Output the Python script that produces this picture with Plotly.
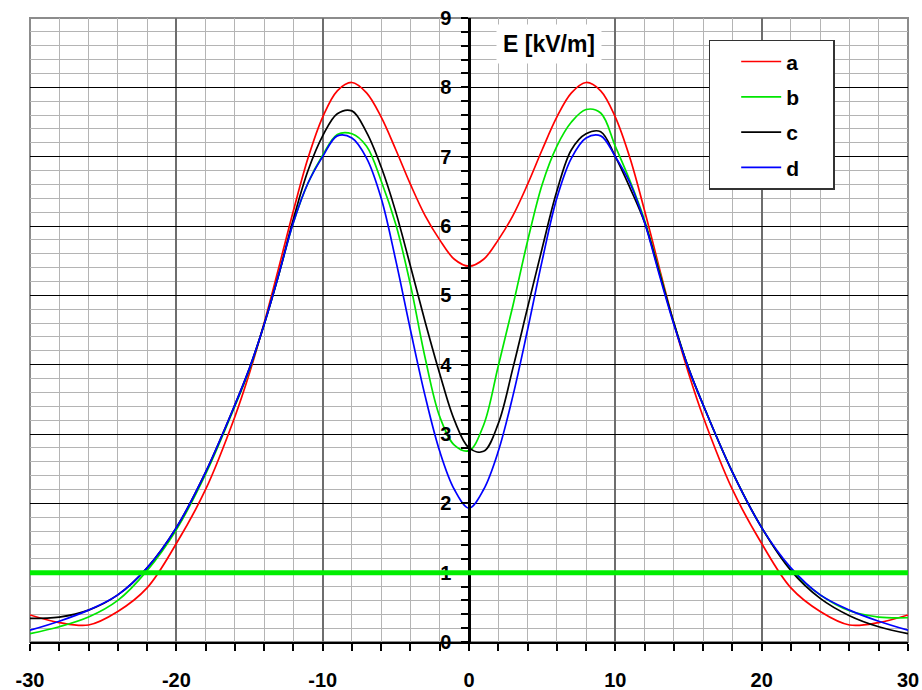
import plotly.graph_objects as go

# ---- data ----
x_m = [-30, -28, -26, -24, -22, -20, -18, -16, -15, -14, -13, -12, -11, -10, -9, -8, -7, -6, -5, -4, -3, -2, -1,
       0, 1, 2, 3, 4, 5, 6, 7, 8, 9, 10, 11, 12, 13, 14, 15, 16, 18, 20, 22, 24, 26, 28, 30]

E_a = [0.39, 0.28, 0.245, 0.44, 0.78, 1.42, 2.2, 3.25, 3.88, 4.6, 5.4, 6.22, 6.98, 7.57, 7.95, 8.07, 7.92, 7.57, 7.1, 6.6, 6.15, 5.8, 5.52,
       5.42, 5.52, 5.8, 6.15, 6.6, 7.1, 7.57, 7.92, 8.07, 7.95, 7.57, 6.98, 6.22, 5.4, 4.6, 3.88, 3.25, 2.2, 1.42, 0.78, 0.44, 0.245, 0.28, 0.39]

E_b = [0.12, 0.22, 0.36, 0.6, 1.03, 1.62, 2.42, 3.4, 3.93, 4.58, 5.3, 6.05, 6.62, 7.02, 7.32, 7.33, 7.15, 6.65, 6.02, 5.15, 4.1, 3.25, 2.84,
       2.76, 3.13, 3.98, 4.85, 5.78, 6.6, 7.15, 7.5, 7.68, 7.63, 7.15, 6.65, 6.08, 5.35, 4.6, 3.95, 3.42, 2.45, 1.65, 1.05, 0.68, 0.45, 0.36, 0.35]

E_c = [0.34, 0.36, 0.46, 0.68, 1.07, 1.65, 2.45, 3.42, 3.95, 4.58, 5.3, 6.1, 6.8, 7.3, 7.62, 7.66, 7.35, 6.85, 6.2, 5.42, 4.62, 3.87, 3.2,
       2.8, 2.75, 3.15, 3.95, 4.82, 5.68, 6.5, 7.1, 7.33, 7.36, 7.0, 6.55, 6.05, 5.33, 4.6, 3.95, 3.42, 2.45, 1.65, 1.03, 0.63, 0.38, 0.22, 0.12]

E_d = [0.17, 0.3, 0.46, 0.68, 1.07, 1.65, 2.45, 3.42, 3.95, 4.58, 5.3, 6.05, 6.62, 7.0, 7.3, 7.27, 6.98, 6.4, 5.5, 4.5, 3.55, 2.75, 2.2,
       1.93, 2.2, 2.75, 3.55, 4.5, 5.5, 6.4, 6.98, 7.27, 7.3, 7.0, 6.62, 6.05, 5.3, 4.58, 3.95, 3.42, 2.45, 1.65, 1.07, 0.68, 0.46, 0.3, 0.17]

series_names = ["a", "b", "c", "d"]
series_colors = ["#ff0000", "#00e600", "#000000", "#0000ff"]
limit_value = 1.0

x_ticks = [-30, -20, -10, 0, 10, 20, 30]
x_tick_labels = ["-30", "-20", "-10", "0", "10", "20", "30"]
y_ticks = [0, 1, 2, 3, 4, 5, 6, 7, 8, 9]

FONT = "Liberation Sans, Arial, sans-serif"
PAD = "&nbsp;" * 5

fig = go.Figure()
for name, ys, col in zip(series_names, [E_a, E_b, E_c, E_d], series_colors):
    fig.add_trace(go.Scatter(
        x=x_m, y=ys, mode="lines", name=name + PAD, legendgroup=name,
        line=dict(color=col, width=1.7, shape="spline", smoothing=1.0),
    ))

fig.add_hline(y=limit_value, line=dict(color="#00ee00", width=5))

# plot frame (grey)
fig.add_shape(type="rect", xref="paper", yref="paper", x0=0, x1=1, y0=0, y1=1,
              line=dict(color="#8c8c8c", width=2), layer="between")

fig.add_annotation(x=5.5, y=8.62, xref="x", yref="y", text="<b>E [kV/m]</b>", showarrow=False,
                   font=dict(family=FONT, size=23, color="black"), bgcolor="white", borderpad=6)
fig.add_annotation(x=24.1, y=-0.52, xref="x", yref="y", text="<b>x [m]</b>", showarrow=False,
                   font=dict(family=FONT, size=21, color="black"), bgcolor="white")

fig.update_layout(
    width=922, height=690,
    margin=dict(l=30, r=14, t=18, b=48),
    plot_bgcolor="white", paper_bgcolor="white",
    showlegend=True,
    legend=dict(
        x=0.773, y=0.965, xanchor="left", yanchor="top",
        bgcolor="white", bordercolor="#333333", borderwidth=1.5,
        font=dict(family=FONT, size=21, color="black", weight="bold"),
        traceorder="grouped", tracegroupgap=5, indentation=26, itemwidth=40,
    ),
    xaxis=dict(
        range=[-30, 30], tickvals=x_ticks, ticktext=x_tick_labels,
        showgrid=True, gridcolor="#6e6e6e", gridwidth=1.5,
        minor=dict(dtick=2, tick0=0, showgrid=True, gridcolor="#b4b4b4", gridwidth=1.2,
                   ticks="outside", ticklen=7, tickwidth=2, tickcolor="black"),
        ticks="outside", ticklen=7, tickwidth=2, tickcolor="black",
        showline=True, linecolor="black", linewidth=2, zeroline=False,
        tickfont=dict(family=FONT, size=20, color="black", weight="bold"),
        ticklabelstandoff=12, automargin=False,
    ),
    yaxis=dict(
        range=[0, 9], tickvals=y_ticks, showgrid=True, gridcolor="#000000", gridwidth=1.2,
        minor=dict(dtick=0.2, tick0=0, showgrid=True, gridcolor="#b4b4b4", gridwidth=1.2,
                   ticks="outside", ticklen=7, tickwidth=2, tickcolor="black"),
        anchor="free", position=0.5,
        ticks="outside", ticklen=7, tickwidth=2, tickcolor="black",
        showline=True, linecolor="black", linewidth=2.5, zeroline=False,
        tickfont=dict(family=FONT, size=20, color="black", weight="bold"),
        ticklabelstandoff=6, automargin=False,
    ),
)

fig.write_html("out.html", config={"displayModeBar": False},
               post_script="document.body.style.margin='0';document.body.style.padding='0';")
